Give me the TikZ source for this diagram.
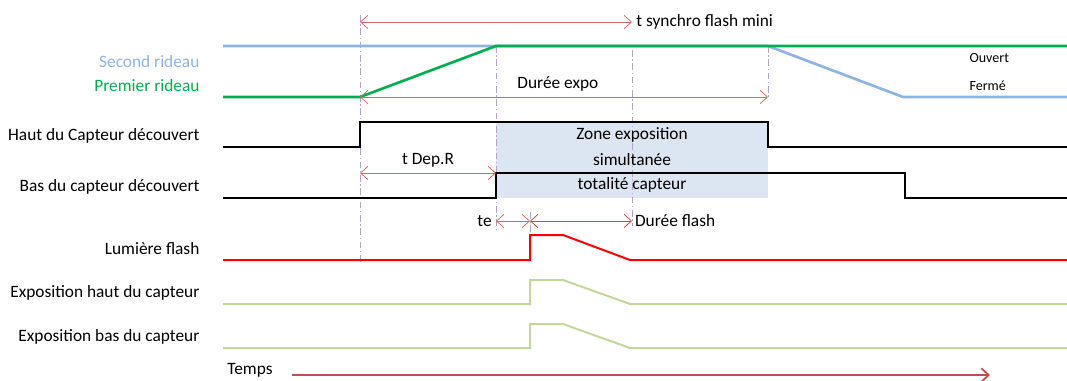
\documentclass[tikz,border=0pt]{standalone}
\usepackage{fontspec}
\setmainfont{Carlito}
\usetikzlibrary{positioning, arrows.meta}

\definecolor{bleurideau}{HTML}{8DB4E2}
\definecolor{vertrideau}{HTML}{00B050}
\definecolor{rougecote}{HTML}{D46A6A}
\definecolor{rougetemps}{HTML}{C0504D}
\definecolor{lavande}{HTML}{B3A2C7}
\definecolor{zonebleue}{HTML}{DCE6F2}
\definecolor{vertexpo}{HTML}{C3D69B}

\begin{document}
\begin{tikzpicture}[
        x=0.75pt, y=-0.75pt,
        signal/.style={line width=1.8pt, line join=miter},
        repere/.style={draw=lavande, line width=0.6pt, dash pattern=on 5pt off 2pt on 1pt off 2pt},
        cote/.style={draw=rougecote, line width=0.6pt, {Straight Barb[length=5.5pt,width=10pt]}-{Straight Barb[length=5.5pt,width=10pt]}},
        etiquette/.style={font=\fontsize{13}{15}\selectfont, anchor=east, inner sep=1pt},
        texte/.style={font=\fontsize{13}{15}\selectfont, inner sep=1pt},
        petit/.style={font=\fontsize{10.5}{12}\selectfont, anchor=west, inner sep=1pt}
    ]
    \useasboundingbox (0,0) rectangle (1067,381);

    % Instants
    \coordinate (tdep) at (360,0);
    \coordinate (tsec) at (496,0);
    \coordinate (tfl) at (530,0);
    \coordinate (tmil) at (632,0);
    \coordinate (tfin) at (768,0);
    \coordinate (tbas) at (905,0);

    % Zone d'exposition
    \fill[zonebleue] (496,122) rectangle (768,198);

    % Reperes
    \draw[repere] (360,15) -- (360,262);
    \draw[repere] (496,46) -- (496,232);
    \draw[repere] (632,50) -- (632,226);
    \draw[repere] (768,46) -- (768,97);
    \draw[repere] (530,212) -- (530,236);

    % Etiquettes
    \node[etiquette, text=bleurideau] (second) at (201,62) {Second rideau};
    \node[etiquette, text=vertrideau] (premier) at (201,86) {Premier rideau};
    \node[etiquette] (haut) at (201,136) {Haut du Capteur découvert};
    \node[etiquette] (bas) at (201,187) {Bas du capteur découvert};
    \node[etiquette] (lumiere) at (201,249) {Lumière flash};
    \node[etiquette] (exphaut) at (201,293) {Exposition haut du capteur};
    \node[etiquette] (expbas) at (201,337) {Exposition bas du capteur};
    \node[petit] (ouvert) at (968,58) {Ouvert};
    \node[petit] (ferme) at (968,86) {Fermé};

    % Rideaux
    \draw[signal, bleurideau, line width=2pt] (223,46) -- (768,46) -- (903,97) -- (1067,97);
    \draw[signal, vertrideau, line width=2pt] (223,97) -- (360,97) -- (496,46) -- (1067,46);

    % Capteur
    \draw[signal, black, line width=1.6pt] (223,147) -- (360,147) -- (360,122) -- (768,122) -- (768,147) -- (1067,147);
    \draw[signal, black, line width=1.6pt] (223,198) -- (496,198) -- (496,173) -- (905,173) -- (905,198) -- (1067,198);
    \node[texte] (zone) at (632,135) {Zone exposition};
    \node[texte] (simult) at (632,160) {simultanée};
    \node[texte] (totalite) at (632,185) {totalité capteur};

    % Flash et expositions
    \draw[signal, red, line width=1.5pt] (223,260) -- (530,260) -- (530,235) -- (563,235) -- (630,260) -- (1067,260);
    \draw[signal, vertexpo, line width=1.5pt] (223,304) -- (530,304) -- (530,280) -- (563,280) -- (630,304) -- (1067,304);
    \draw[signal, vertexpo, line width=1.5pt] (223,348) -- (530,348) -- (530,324) -- (563,324) -- (630,348) -- (1067,348);

    % Cotes
    \coordinate (synA) at (tdep |- 0,22);
    \coordinate (synB) at (tmil |- 0,22);
    \draw[cote] (synA) -- (synB) node[texte, anchor=west, right=2pt] (synchro) {t synchro flash mini};
    \coordinate (expA) at (tdep |- 0,97);
    \coordinate (expB) at (tfin |- 0,97);
    \draw[cote] (expA) -- (expB) node[texte, pos=0.485, above=3pt] (duree) {Durée expo};
    \coordinate (depA) at (tdep |- 0,173);
    \coordinate (depB) at (tsec |- 0,173);
    \draw[cote] (depA) -- (depB) node[texte, midway, above=3pt] (dep) {t Dep.R};
    \coordinate (teA) at (tsec |- 0,221);
    \coordinate (teB) at (tfl |- 0,221);
    \draw[cote] (teA) -- (teB);
    \node[texte, left=2pt of teA] (te) {te};
    \coordinate (flA) at (tfl |- 0,221);
    \coordinate (flB) at (tmil |- 0,221);
    \draw[cote, draw=rougetemps] (flA) -- (flB) node[texte, right=1pt] (dureeflash) {Durée flash};

    % Temps
    \node[texte] (temps) at (250,370) {Temps};
    \coordinate (tpsA) at (292,375);
    \coordinate (tpsB) at (990,375);
    \draw[rougetemps, line width=1.3pt, -{Straight Barb[length=5.5pt,width=10pt]}] (tpsA) -- (tpsB);
\end{tikzpicture}
\end{document}
